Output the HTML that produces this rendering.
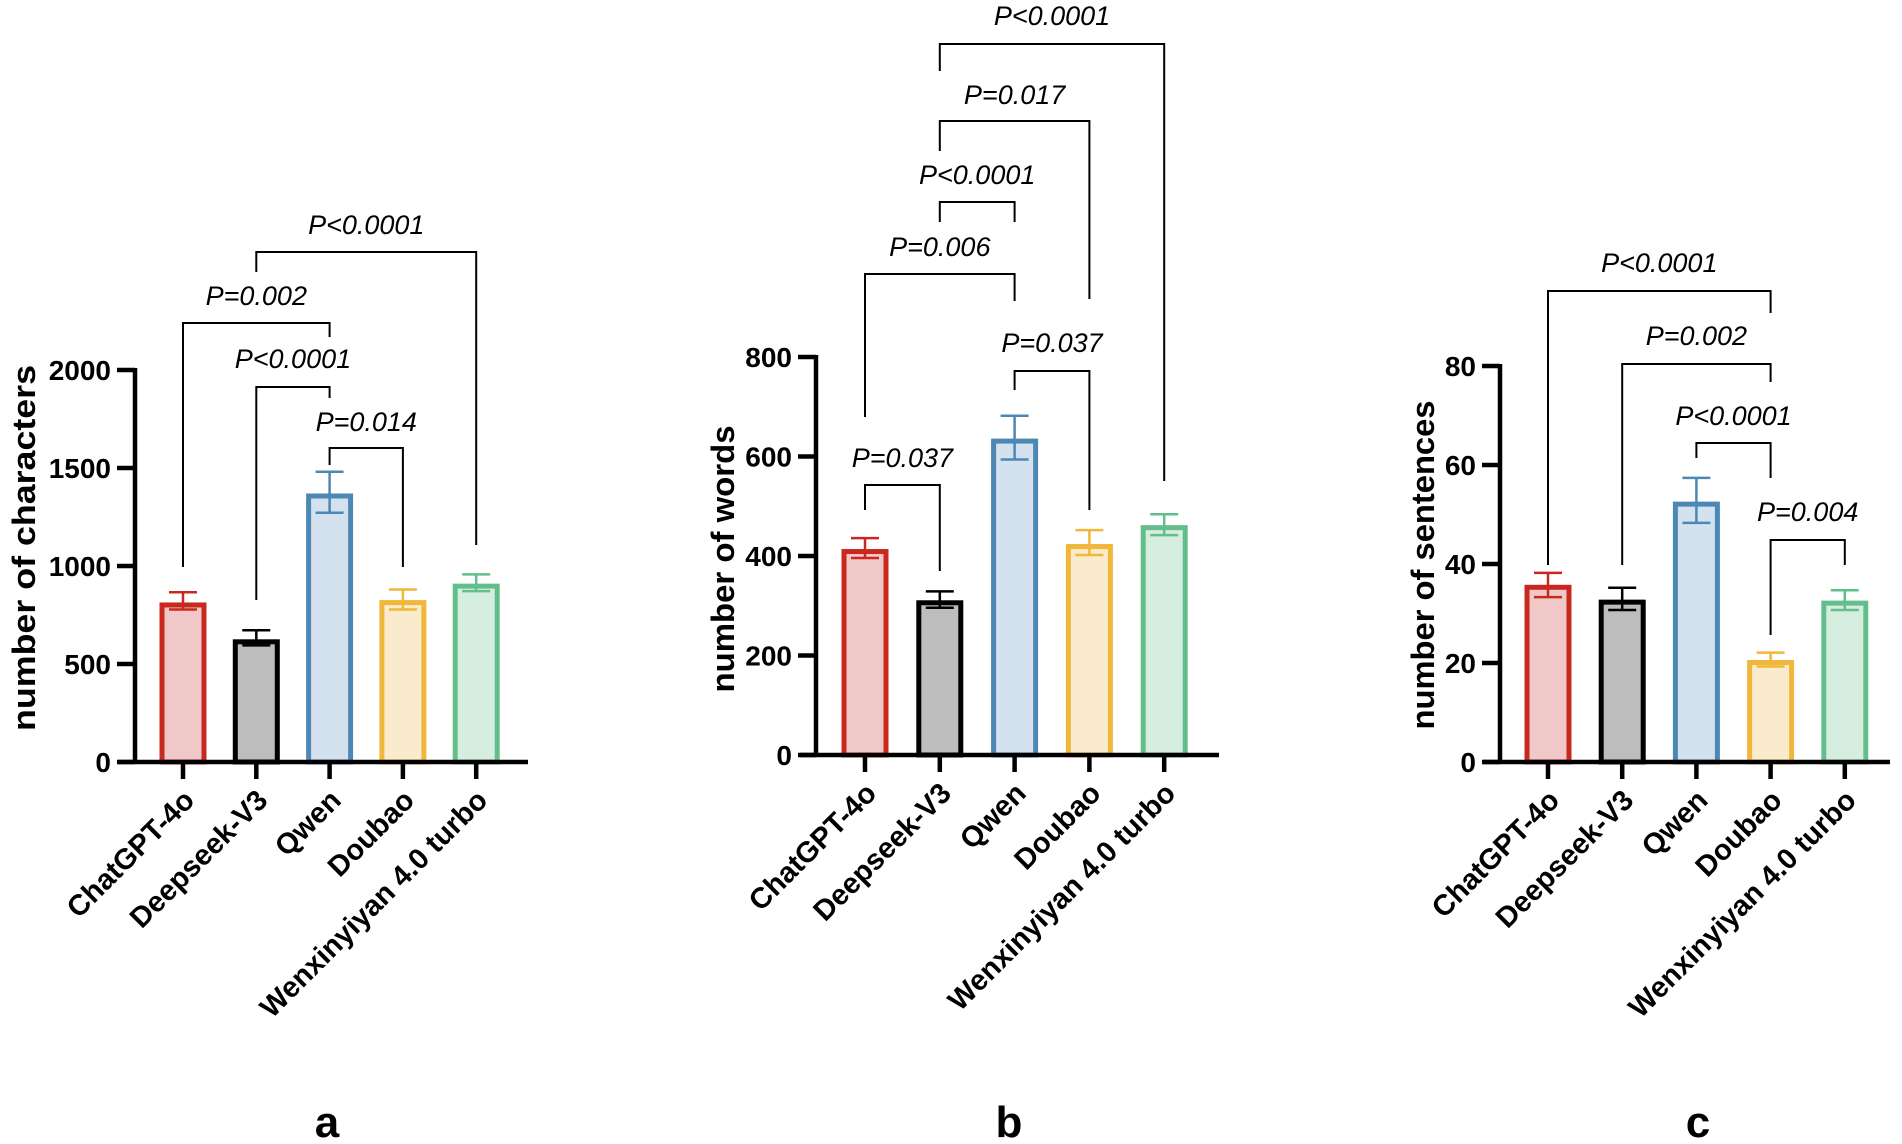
<!DOCTYPE html>
<html><head><meta charset="utf-8">
<style>
html,body{margin:0;padding:0;background:#fff;}
svg{display:block;font-family:"Liberation Sans",Arial,sans-serif;}
</style></head>
<body>
<svg id="fig" width="1902" height="1144" viewBox="0 0 1902 1144" xmlns="http://www.w3.org/2000/svg"></svg>
<script>
// ---- data ----
const categories = ["ChatGPT-4o","Deepseek-V3","Qwen","Doubao","Wenxinyiyan 4.0 turbo"];
const charMeans = [814, 626, 1370, 826, 910];
const charLow   = [778, 595, 1272, 778, 872];
const charHigh  = [866, 672, 1481, 880, 957];
const wordMeans = [414, 311, 636, 424, 462];
const wordLow   = [396, 296, 594, 402, 442];
const wordHigh  = [436, 329, 682, 452, 484];
const sentMeans = [35.8, 32.8, 52.6, 20.6, 32.6];
const sentLow   = [33.3, 30.7, 48.3, 19.3, 30.7];
const sentHigh  = [38.2, 35.2, 57.4, 22.1, 34.7];
const charTicks = [0, 500, 1000, 1500, 2000];
const wordTicks = [0, 200, 400, 600, 800];
const sentTicks = [0, 20, 40, 60, 80];
// comparisons: [groupA, groupB, label]
const charComps = [[1,4,"P<0.0001"],[0,2,"P=0.002"],[1,2,"P<0.0001"],[2,3,"P=0.014"]];
const wordComps = [[1,4,"P<0.0001"],[1,3,"P=0.017"],[1,2,"P<0.0001"],[0,2,"P=0.006"],[2,3,"P=0.037"],[0,1,"P=0.037"]];
const sentComps = [[0,3,"P<0.0001"],[1,3,"P=0.002"],[2,3,"P<0.0001"],[3,4,"P=0.004"]];

// ---- styling / layout (not data) ----
const strokes = ["#c8281e","#000000","#4d87b4","#f0b73a","#64be8c"];
const fills   = ["#f1c8c8","#bdbdbd","#d3e2ee","#fbebcd","#d6eee0"];
const NS = "http://www.w3.org/2000/svg";
const svg = document.getElementById("fig");
function mk(tag, attrs, parent){
  const e = document.createElementNS(NS, tag);
  for (const k in attrs) e.setAttribute(k, attrs[k]);
  (parent||svg).appendChild(e);
  return e;
}

const panels = [
  {id:"a", axisX:135, x0:118, x1:528, zeroY:762, topY:370, max:2000, first:183, step:73.3,
   means:charMeans, low:charLow, high:charHigh, ticks:charTicks, comps:charComps,
   ylabel:"number of characters", ylx:24, yly:548, yllen:366, letterX:327,
   geo:[[252,272,545,234],[323,567,337,305],[387,600,398,368],[448,465,567,431]]},
  {id:"b", axisX:816, x0:800, x1:1219, zeroY:755, topY:357, max:800, first:865, step:74.8,
   means:wordMeans, low:wordLow, high:wordHigh, ticks:wordTicks, comps:wordComps,
   ylabel:"number of words", ylx:723, yly:559, yllen:267, letterX:1009,
   geo:[[44,71,481,25],[121,151,299,104],[202,222,222,184],[274,417,301,256],[371,390,510,352],[485,510,571,467]]},
  {id:"c", axisX:1500, x0:1483, x1:1890, zeroY:762, topY:366, max:80, first:1548, step:74.2,
   means:sentMeans, low:sentLow, high:sentHigh, ticks:sentTicks, comps:sentComps,
   ylabel:"number of sentences", ylx:1423, yly:565, yllen:329, letterX:1698,
   geo:[[291,565,313,272],[364,565,382,345],[443,458,478,425],[540,635,565,521]]}
];

panels.forEach(p => {
  const g = mk("g", {});
  
  
  const yS = v => p.zeroY - (v / p.max) * (p.zeroY - p.topY);
  const xS = i => p.first + i * p.step;

  categories.forEach((c, i) => {
    const bw = 47, sw = 5;
    const top = yS(p.means[i]);
    const r = mk("rect", {x: xS(i) - bw/2 + sw/2, y: top + sw/2, width: bw - sw, height: p.zeroY - top - sw/2,
      fill: fills[i], stroke: strokes[i], "stroke-width": sw}, g);
    
    
    const eg = mk("g", {stroke: strokes[i], "stroke-width": 2.5, fill: "none"}, g);
    
    
    const yl = yS(p.low[i]), yh = yS(p.high[i]);
    mk("line", {x1: xS(i), x2: xS(i), y1: yh, y2: yl}, eg);
    mk("line", {x1: xS(i) - 14, x2: xS(i) + 14, y1: yh, y2: yh}, eg);
    mk("line", {x1: xS(i) - 14, x2: xS(i) + 14, y1: yl, y2: yl}, eg);
  });

  const ax = mk("g", {stroke: "#000", "stroke-width": 4.5}, g);
  
  
  mk("line", {x1: p.axisX, x2: p.axisX, y1: p.topY - 2, y2: p.zeroY + 2}, ax);
  mk("line", {x1: p.x0, x2: p.x1, y1: p.zeroY, y2: p.zeroY}, ax);
  p.ticks.forEach(t => {
    mk("line", {x1: p.axisX - 18, x2: p.axisX, y1: yS(t), y2: yS(t)}, ax);
    const tl = mk("text", {x: p.axisX - 24, y: yS(t) + 10, "text-anchor": "end", "font-size": 28, "font-weight": "bold", fill: "#000"}, g);
    tl.textContent = t;
    
    
  });
  categories.forEach((c, i) => {
    mk("line", {x1: xS(i), x2: xS(i), y1: p.zeroY, y2: p.zeroY + 17}, ax);
    const xl = mk("text", {x: 0, y: 0, "text-anchor": "end", "font-size": 29, "font-weight": "bold", fill: "#000",
      transform: "translate(" + (xS(i) + 13) + "," + (p.zeroY + 40) + ") rotate(-45)"}, g);
    xl.textContent = c;
    
    
  });

  const yl = mk("text", {x: 0, y: 0, "text-anchor": "middle", "font-size": 32, "font-weight": "bold", fill: "#000",
    textLength: p.yllen, lengthAdjust: "spacingAndGlyphs",
    transform: "translate(" + (p.ylx + 11) + "," + p.yly + ") rotate(-90)"}, g);
  yl.textContent = p.ylabel;
  
  

  p.comps.forEach((cp, k) => {
    const [a, b, lab] = cp;
    const [hy, la, rb, tb] = p.geo[k];
    const bg = mk("g", {}, g);
    
    
    mk("path", {d: "M" + xS(a) + "," + la + "V" + hy + "H" + xS(b) + "V" + rb, fill: "none", stroke: "#000", "stroke-width": 2}, bg);
    const t = mk("text", {x: (xS(a) + xS(b)) / 2, y: tb, "text-anchor": "middle", "font-size": 27, "font-style": "italic", fill: "#000"}, bg);
    t.textContent = lab;
  });

  const L = mk("text", {x: p.letterX, y: 1137, "text-anchor": "middle", "font-size": 44, "font-weight": "bold", fill: "#000"}, g);
  L.textContent = p.id;
  
  
});
</script>
</body></html>
